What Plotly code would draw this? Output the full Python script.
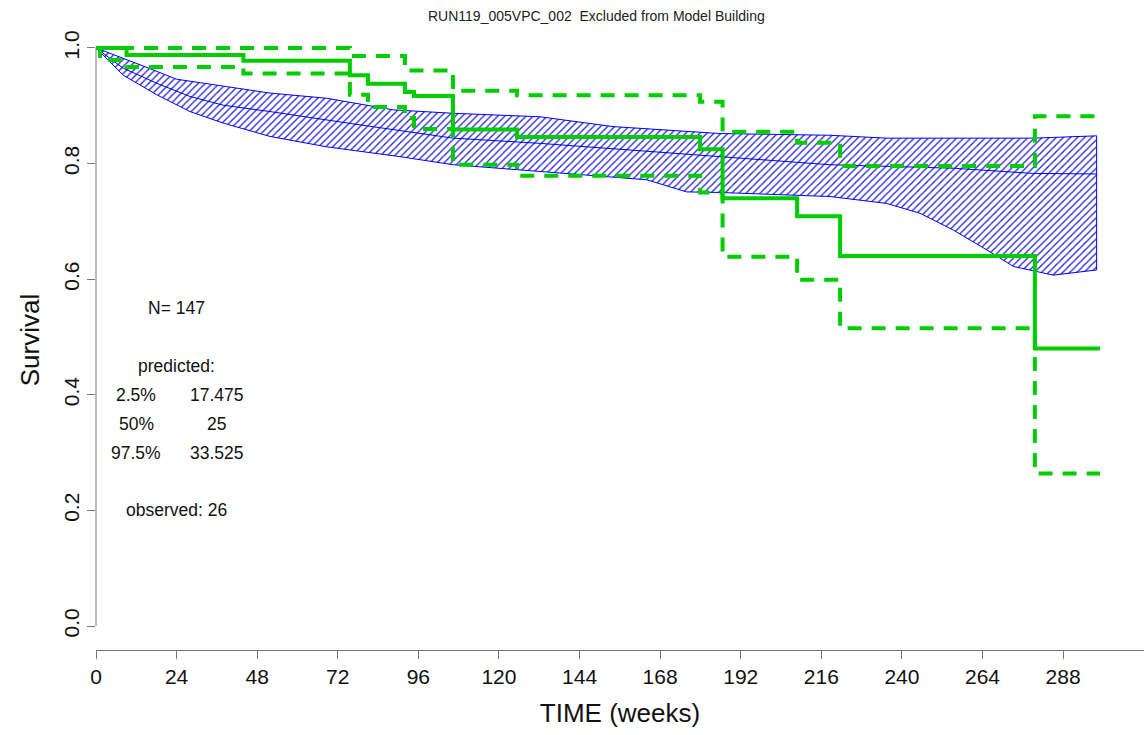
import plotly.graph_objects as go

# ---------------- data ----------------
# observed Kaplan-Meier (median) and its 2.5% / 97.5% bounds, step times in weeks
obs_t = [0, 1.2, 9.1, 43.9, 75.6, 81.0, 92.0, 94.7, 106.3, 125.4, 179.9, 186.6, 208.8, 221.6, 279.6, 299]
obs_mid = [1.0, 1.0, 0.988, 0.978, 0.953, 0.938, 0.924, 0.917, 0.859, 0.846, 0.825, 0.740, 0.709, 0.640, 0.480, 0.480]
obs_hi = [1.0, 1.0, 1.0, 1.0, 0.986, 0.986, 0.961, 0.961, 0.926, 0.918, 0.907, 0.855, 0.836, 0.796, 0.882, 0.882]
obs_lo = [1.0, 0.979, 0.967, 0.956, 0.919, 0.898, 0.879, 0.860, 0.798, 0.779, 0.750, 0.639, 0.599, 0.515, 0.264, 0.264]

# predicted band (simulation percentiles)
up_t = [0, 4.2, 13.1, 24, 51.8, 68.7, 88.5, 106.4, 132.2, 154, 185.8, 218.6, 235.5, 279, 298]
up_s = [1.0, 0.991, 0.971, 0.946, 0.922, 0.913, 0.893, 0.887, 0.881, 0.864, 0.852, 0.849, 0.844, 0.844, 0.848]
md_t = [0, 8.1, 18.1, 28, 37.9, 51.8, 78.6, 106.4, 132.2, 159, 185.8, 218.6, 255.3, 279, 298]
md_s = [1.0, 0.965, 0.939, 0.916, 0.901, 0.890, 0.867, 0.844, 0.835, 0.824, 0.812, 0.798, 0.792, 0.783, 0.782]
lo_t = [0, 8.1, 18.1, 28, 37.9, 51.8, 68.7, 90.5, 106.4, 132.2, 164, 175.9, 185.8, 218.6, 235.5, 245.4,
        255.3, 265.2, 273.2, 285.1, 298]
lo_s = [1.0, 0.953, 0.919, 0.890, 0.870, 0.847, 0.829, 0.812, 0.798, 0.786, 0.772, 0.751, 0.750, 0.743,
        0.731, 0.714, 0.685, 0.651, 0.622, 0.607, 0.616]

x_ticks = [0, 24, 48, 72, 96, 120, 144, 168, 192, 216, 240, 264, 288]
y_ticks = [0.0, 0.2, 0.4, 0.6, 0.8, 1.0]
y_tick_text = ["0.0", "0.2", "0.4", "0.6", "0.8", "1.0"]

title_text = "RUN119_005VPC_002 \u00a0Excluded from Model Building"
stat_labels = ["2.5%", "50%", "97.5%"]
stat_values = ["17.475", "25", "33.525"]
stat_y = [0.40, 0.35, 0.30]
n_text = "N= 147"
obs_text = "observed: 26"

# ---------------- figure ----------------
FONT = "Liberation Sans, Arial, sans-serif"
GREEN = "#00CD00"
BLUE = "#0000FF"

fig = go.Figure()

band_x = up_t + lo_t[::-1]
band_y = up_s + lo_s[::-1]
fig.add_trace(go.Scatter(
    x=band_x, y=band_y, mode="lines", fill="toself",
    fillcolor="rgba(255,255,255,0)",
    fillpattern=dict(shape="/", fgcolor="#2b2bcf", bgcolor="rgba(255,255,255,0)",
                     size=5, solidity=0.28, fillmode="replace"),
    line=dict(color=BLUE, width=1), hoverinfo="skip", showlegend=False))
fig.add_trace(go.Scatter(x=md_t, y=md_s, mode="lines",
                         line=dict(color=BLUE, width=1), showlegend=False))

fig.add_trace(go.Scatter(x=obs_t, y=obs_hi, mode="lines", line_shape="hv",
                         line=dict(color=GREEN, width=4, dash="14px,10px"), showlegend=False))
fig.add_trace(go.Scatter(x=obs_t, y=obs_lo, mode="lines", line_shape="hv",
                         line=dict(color=GREEN, width=4, dash="14px,10px"), showlegend=False))
fig.add_trace(go.Scatter(x=obs_t, y=obs_mid, mode="lines", line_shape="hv",
                         line=dict(color=GREEN, width=4), showlegend=False))

annotations = []
def txt(x, y, s, size=17.5):
    annotations.append(dict(x=x, y=y, xref="x", yref="y", text=s, showarrow=False,
                            font=dict(family=FONT, size=size, color="#111111"),
                            xanchor="center", yanchor="middle"))

txt(24, 0.55, n_text)
txt(24, 0.45, "predicted:")
for lab, val, yy in zip(stat_labels, stat_values, stat_y):
    txt(12, yy, lab)
    txt(36, yy, val)
txt(24, 0.20, obs_text)

# title (paper coords: plot area spans x 96..1144 px, y 30..650 px)
annotations.append(dict(x=(596 - 96) / 1048, y=(650 - 16) / 620, xref="paper", yref="paper",
                        text=title_text, showarrow=False,
                        font=dict(family=FONT, size=14, color="#222222"),
                        xanchor="center", yanchor="middle"))

fig.update_layout(
    width=1144, height=735,
    margin=dict(l=96, r=0, t=30, b=85),
    paper_bgcolor="white", plot_bgcolor="white",
    showlegend=False,
    font=dict(family=FONT, color="#111111"),
    xaxis=dict(range=[0, 312.1], tickvals=x_ticks, ticks="outside", ticklen=8, tickwidth=1,
               tickcolor="#777777", showline=True, linecolor="#777777", linewidth=1,
               showgrid=False, zeroline=False, tickfont=dict(size=21, family=FONT),
               title=dict(text="TIME (weeks)", font=dict(size=26, family=FONT), standoff=16)),
    yaxis=dict(range=[-0.04152, 1.0311], tickvals=y_ticks, ticktext=y_tick_text, ticks="outside",
               ticklen=8, tickwidth=1, tickcolor="#777777", showline=False, showgrid=False,
               zeroline=False, tickangle=-90, tickfont=dict(size=21, family=FONT),
               title=dict(text="Survival", font=dict(size=26, family=FONT), standoff=12)),
    shapes=[dict(type="line", xref="paper", yref="y", x0=0, x1=0, y0=0, y1=1,
                 line=dict(color="#777777", width=1))],
    annotations=annotations,
)

fig.write_html("out.html")
